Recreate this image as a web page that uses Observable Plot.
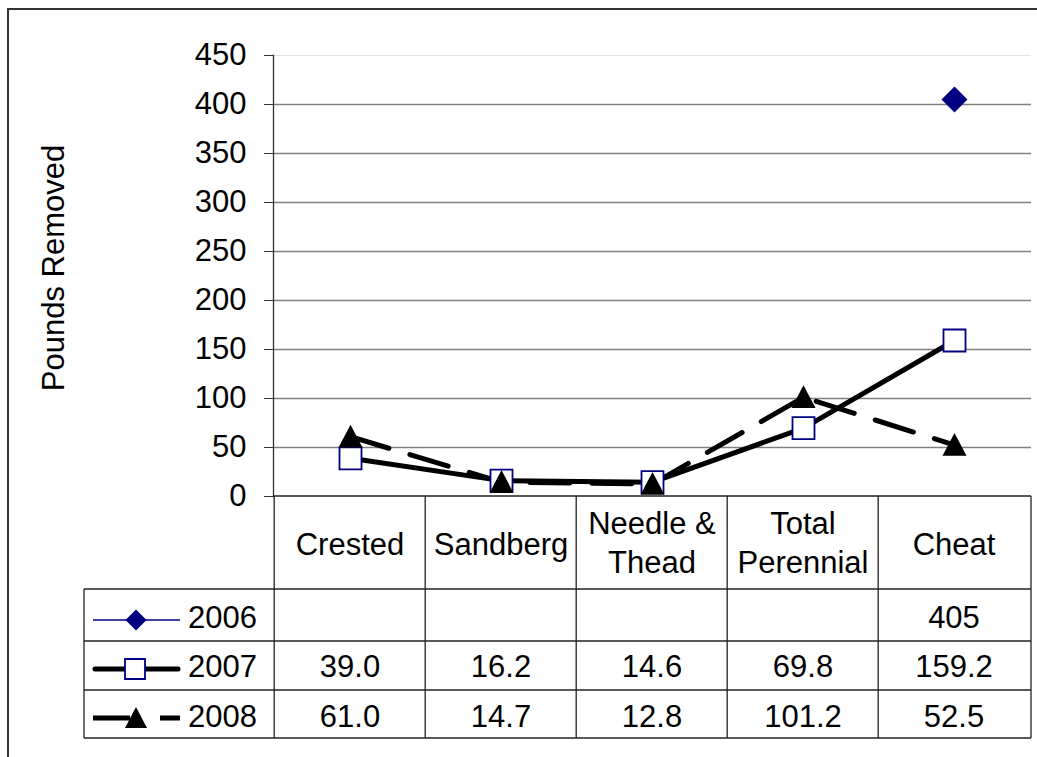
<!DOCTYPE html>
<html>
<head>
<meta charset="utf-8">
<script src="https://cdn.jsdelivr.net/npm/d3@7"></script>
<script src="https://cdn.jsdelivr.net/npm/@observablehq/plot@0.6"></script>
<style>
  html, body { margin: 0; padding: 0; background: #fff; }
  #chart svg { display: block; }
</style>
</head>
<body>
<div id="chart"></div>
<script>
// Categories along the x axis and their header labels in the data table
const categories = ["Crested", "Sandberg", "Needle & Thead", "Total Perennial", "Cheat"];
const headerLines = [["Crested"], ["Sandberg"], ["Needle &", "Thead"], ["Total", "Perennial"], ["Cheat"]];

// Pounds removed per year
const years = ["2006", "2007", "2008"];
const values2006 = [null, null, null, null, 405];
const values2007 = [39.0, 16.2, 14.6, 69.8, 159.2];
const values2008 = [61.0, 14.7, 12.8, 101.2, 52.5];

// Y axis ticks
const yTicks = [0, 50, 100, 150, 200, 250, 300, 350, 400, 450];
const yLabel = "Pounds Removed";

const FONT = '"Liberation Sans", Arial, sans-serif';
const FS = 31;

// Marker shapes, sized by the radius Plot derives from r (size = PI * r^2)
const rad = size => Math.sqrt(size / Math.PI);
const diamondMarker = { draw(ctx, size) { const r = rad(size); ctx.moveTo(0, -r); ctx.lineTo(r, 0); ctx.lineTo(0, r); ctx.lineTo(-r, 0); ctx.closePath(); } };
const squareMarker = { draw(ctx, size) { const r = rad(size); ctx.rect(-r, -r, 2 * r, 2 * r); } };
const triangleMarker = { draw(ctx, size) { const r = rad(size); ctx.moveTo(0, -r); ctx.lineTo(r, r * 0.9); ctx.lineTo(-r, r * 0.9); ctx.closePath(); } };

const rows = (vals, year) => categories.map((c, i) => ({ category: c, value: vals[i], year }));
const r06 = rows(values2006, "2006"), r07 = rows(values2007, "2007"), r08 = rows(values2008, "2008");
const defined = d => d.value != null;

const W = 1037, H = 757;
const plot = Plot.plot({
  width: W, height: H,
  marginLeft: 273, marginRight: 6, marginTop: 55, marginBottom: 261,
  style: { fontFamily: FONT, fontSize: FS + "px", background: "white", color: "black" },
  x: { type: "point", domain: categories, padding: 0.5, axis: null },
  y: { domain: [0, 450], axis: null },
  marks: [
    Plot.ruleY(yTicks.filter(v => v > 0 && v < 450), { stroke: "#808080", strokeWidth: 1.5 }),
    Plot.ruleY([450], { stroke: "#e2e2e2", strokeWidth: 1 }),
    Plot.axisY({ ticks: yTicks, tickSize: 9, tickPadding: 18, tickFormat: d => String(d), label: null, fontSize: FS, stroke: "#333", fill: "black" }),
    Plot.frame({ anchor: "left", stroke: "#333", strokeWidth: 1.3 }),
    Plot.line(r06.filter(defined), { x: "category", y: "value", stroke: "#000080", strokeWidth: 1 }),
    Plot.line(r07, { x: "category", y: "value", stroke: "black", strokeWidth: 5, strokeLinecap: "round", strokeLinejoin: "round" }),
    Plot.line(r08, { x: "category", y: "value", stroke: "black", strokeWidth: 5, strokeDasharray: "40,22" }),
    Plot.dot(r07, { x: "category", y: "value", symbol: squareMarker, r: 11, fill: "white", stroke: "#000080", strokeWidth: 1.8 }),
    Plot.dot(r08, { x: "category", y: "value", symbol: triangleMarker, r: 12, fill: "black", stroke: "none" }),
    Plot.dot(r06.filter(defined), { x: "category", y: "value", symbol: diamondMarker, r: 13, fill: "#000080", stroke: "none" })
  ]
});

document.getElementById("chart").append(plot);

// Data table under the plot, aligned with the x scale
const svg = d3.select(plot);
const xs = plot.scale("x"), ys = plot.scale("y");
const step = (xs.range[1] - xs.range[0]) / categories.length;
const left = xs.range[0], right = xs.range[1];
const yAxis = ys.apply(0);
const legendLeft = 84;
const rowLines = [589, 641, 690, 738];
const textBase = [628, 677, 727];
const sampleY = [620, 669, 718];

const g = svg.append("g").attr("fill", "none").attr("stroke", "#222").attr("stroke-width", 1.3);
g.append("line").attr("x1", left).attr("x2", right).attr("y1", yAxis).attr("y2", yAxis);
categories.forEach((c, i) => {
  const xl = xs.apply(c) - step / 2;
  g.append("line").attr("x1", xl).attr("x2", xl).attr("y1", yAxis).attr("y2", rowLines[3]);
});
g.append("line").attr("x1", right).attr("x2", right).attr("y1", yAxis).attr("y2", rowLines[3]);
rowLines.forEach(y => g.append("line").attr("x1", legendLeft).attr("x2", right).attr("y1", y).attr("y2", y));
g.append("line").attr("x1", legendLeft).attr("x2", legendLeft).attr("y1", rowLines[0]).attr("y2", rowLines[3]);

const t = svg.append("g").attr("font-family", FONT).attr("font-size", FS).attr("fill", "black").attr("text-anchor", "middle");
headerLines.forEach((lines, i) => {
  const cx = xs.apply(categories[i]);
  if (lines.length === 1) {
    t.append("text").attr("x", cx).attr("y", 555).text(lines[0]);
  } else {
    t.append("text").attr("x", cx).attr("y", 534).text(lines[0]);
    t.append("text").attr("x", cx).attr("y", 573).text(lines[1]);
  }
});
const tableValues = [
  values2006.map(v => v == null ? "" : String(v)),
  values2007.map(v => v.toFixed(1)),
  values2008.map(v => v.toFixed(1))
];
tableValues.forEach((vals, r) => {
  vals.forEach((s, i) => {
    if (s) t.append("text").attr("x", xs.apply(categories[i])).attr("y", textBase[r]).text(s);
  });
});

// Legend keys in the first column
const lg = svg.append("g");
const sx0 = 93, sx1 = 180, mx = 136;
lg.append("line").attr("x1", sx0).attr("x2", sx1).attr("y1", sampleY[0]).attr("y2", sampleY[0]).attr("stroke", "#000080").attr("stroke-width", 1.3);
lg.append("path").attr("transform", `translate(${mx},${sampleY[0]})`).attr("d", d3.symbol(diamondMarker, Math.PI * 10.5 * 10.5)()).attr("fill", "#000080");
lg.append("line").attr("x1", sx0 + 2).attr("x2", sx1 - 2).attr("y1", sampleY[1]).attr("y2", sampleY[1]).attr("stroke", "black").attr("stroke-width", 5).attr("stroke-linecap", "round");
lg.append("path").attr("transform", `translate(${mx - 1},${sampleY[1]})`).attr("d", d3.symbol(squareMarker, Math.PI * 10 * 10)()).attr("fill", "white").attr("stroke", "#000080").attr("stroke-width", 1.8);
lg.append("line").attr("x1", sx0).attr("x2", sx1).attr("y1", sampleY[2]).attr("y2", sampleY[2]).attr("stroke", "black").attr("stroke-width", 5).attr("stroke-dasharray", "37,30");
lg.append("path").attr("transform", `translate(${mx},${sampleY[2]})`).attr("d", d3.symbol(triangleMarker, Math.PI * 11 * 11)()).attr("fill", "black");
years.forEach((yr, i) => {
  lg.append("text").attr("x", 188).attr("y", textBase[i]).attr("text-anchor", "start")
    .attr("font-family", FONT).attr("font-size", FS).attr("fill", "black").text(yr);
});

// Y axis title
svg.append("text")
  .attr("transform", "translate(64,268) rotate(-90)")
  .attr("text-anchor", "middle").attr("font-family", FONT).attr("font-size", FS).attr("fill", "black")
  .text(yLabel);

// Outer chart border
svg.append("rect").attr("x", 8).attr("y", 9).attr("width", 1100).attr("height", 800)
  .attr("fill", "none").attr("stroke", "#333").attr("stroke-width", 2);
</script>
</body>
</html>
